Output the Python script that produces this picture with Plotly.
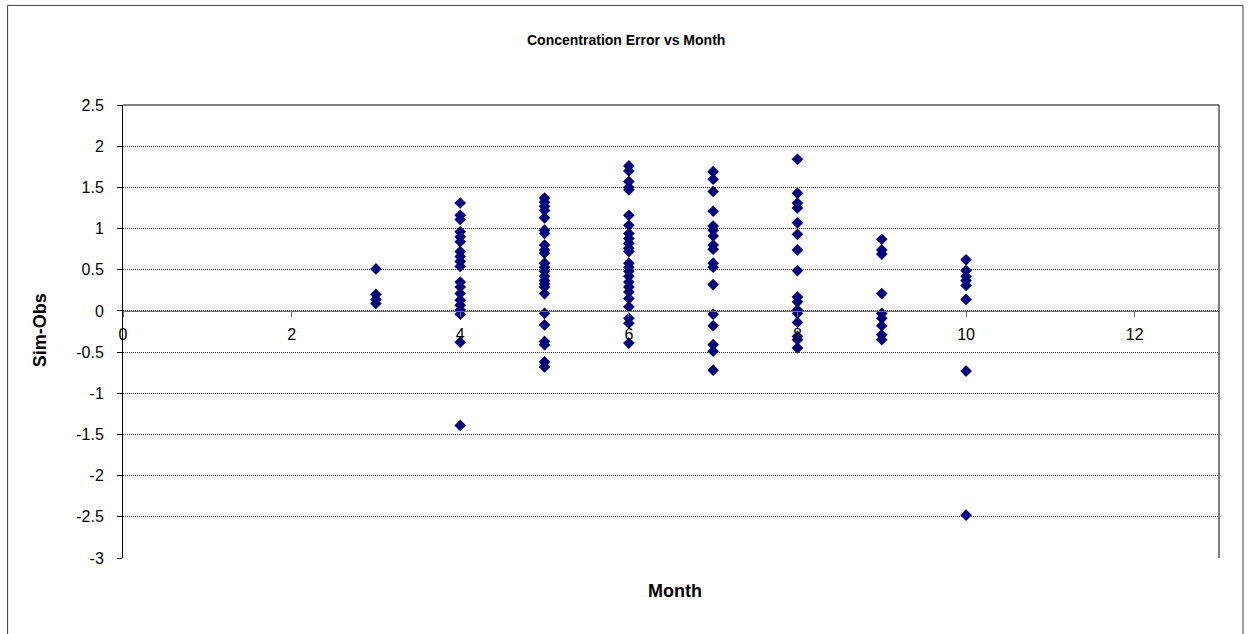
import plotly.graph_objects as go

# Sim-Obs concentration error, grouped by month
err_m3 = [0.51, 0.20, 0.14, 0.09]
err_m4 = [1.31, 1.16, 1.11, 0.96, 0.90, 0.84, 0.72, 0.66, 0.60, 0.54, 0.35, 0.29, 0.21,
          0.13, 0.07, 0.01, -0.04, -0.38, -1.39]
err_m5 = [1.37, 1.32, 1.27, 1.22, 1.13, 0.98, 0.94, 0.80, 0.74, 0.70, 0.58, 0.53, 0.48,
          0.42, 0.37, 0.33, 0.29, 0.21, -0.03, -0.17, -0.37, -0.41, -0.62, -0.68]
err_m6 = [1.76, 1.70, 1.57, 1.50, 1.47, 1.16, 1.04, 0.94, 0.88, 0.82, 0.76, 0.72, 0.58,
          0.53, 0.48, 0.42, 0.35, 0.29, 0.23, 0.15, 0.05, -0.09, -0.15, -0.39]
err_m7 = [1.69, 1.60, 1.45, 1.21, 1.03, 0.98, 0.91, 0.80, 0.75, 0.58, 0.53, 0.32,
          -0.04, -0.18, -0.41, -0.49, -0.72]
err_m8 = [1.84, 1.43, 1.31, 1.25, 1.07, 0.93, 0.74, 0.49, 0.17, 0.11, 0.01, -0.03,
          -0.14, -0.31, -0.35, -0.45]
err_m9 = [0.87, 0.74, 0.69, 0.21, -0.03, -0.09, -0.18, -0.29, -0.35]
err_m10 = [0.62, 0.49, 0.42, 0.37, 0.31, 0.14, -0.73, -2.48]

groups = [(3, err_m3), (4, err_m4), (5, err_m5), (6, err_m6), (7, err_m7),
          (8, err_m8), (9, err_m9), (10, err_m10)]
month = [m for m, vals in groups for _ in vals]
error = [v for _, vals in groups for v in vals]

x_ticks = [0, 2, 4, 6, 8, 10, 12]
y_ticks = [2.5, 2, 1.5, 1, 0.5, 0, -0.5, -1, -1.5, -2, -2.5, -3]
y_labels = ["2.5", "2", "1.5", "1", "0.5", "0", "-0.5", "-1", "-1.5", "-2", "-2.5", "-3"]

W, H = 1252, 634
L, R, T, B = 123, 1219.5, 105, 557.6
pw, ph = R - L, B - T

def px(xp):
    return (xp - L) / pw

def py(yp):
    return (B - yp) / ph

fig = go.Figure()
fig.add_trace(go.Scatter(
    x=month, y=error, mode="markers",
    marker=dict(symbol="diamond", size=9, color="#000080", line=dict(width=0)),
    showlegend=False, hoverinfo="x+y"))

fig.update_layout(
    width=W, height=H,
    margin=dict(l=L, r=W - R, t=T, b=H - B, autoexpand=False),
    paper_bgcolor="white", plot_bgcolor="white",
    font=dict(family="Liberation Sans, Arial, sans-serif", size=16, color="black"),
    showlegend=False,
)
fig.update_xaxes(
    range=[0, 13], tickmode="array", tickvals=x_ticks, ticktext=[str(t) for t in x_ticks],
    anchor="free", position=3 / 5.5,
    showline=True, linecolor="#707070", linewidth=1,
    ticks="outside", ticklen=5, tickcolor="#707070",
    showgrid=False, zeroline=False, ticklabelstandoff=4,
    tickfont=dict(size=16),
)
fig.update_yaxes(
    range=[-3, 2.5], tickmode="array", tickvals=y_ticks, ticktext=y_labels,
    showline=True, linecolor="black", linewidth=1,
    ticks="outside", ticklen=5, tickcolor="black",
    showgrid=True, gridcolor="#303030", griddash="1px,1px", gridwidth=1,
    zeroline=False, ticklabelstandoff=10, tickfont=dict(size=16),
)

# plot-area top and right edges
fig.add_shape(type="line", xref="paper", yref="paper", x0=0, x1=1, y0=1, y1=1,
              line=dict(color="black", width=1))
fig.add_shape(type="line", xref="paper", yref="paper", x0=1, x1=1, y0=0, y1=1,
              line=dict(color="black", width=1))
# outer chart frame
fig.add_shape(type="rect", xref="paper", yref="paper",
              x0=px(7.5), x1=px(1243.5), y0=py(645), y1=py(5.5),
              line=dict(color="#404040", width=1), layer="below")

fig.add_annotation(text="<b>Concentration Error vs Month</b>", xref="paper", yref="paper",
                   x=px(626), y=py(40), showarrow=False, font=dict(size=14),
                   xanchor="center", yanchor="middle")
fig.add_annotation(text="<b>Sim-Obs</b>", xref="paper", yref="paper",
                   x=px(40), y=py(330), showarrow=False, textangle=-90,
                   font=dict(size=18), xanchor="center", yanchor="middle")
fig.add_annotation(text="<b>Month</b>", xref="paper", yref="paper",
                   x=px(675), y=py(591), showarrow=False,
                   font=dict(size=18), xanchor="center", yanchor="middle")

fig.write_html("out.html", config={"displayModeBar": False},
               post_script="document.body.style.margin='0';document.body.style.overflow='hidden';")
